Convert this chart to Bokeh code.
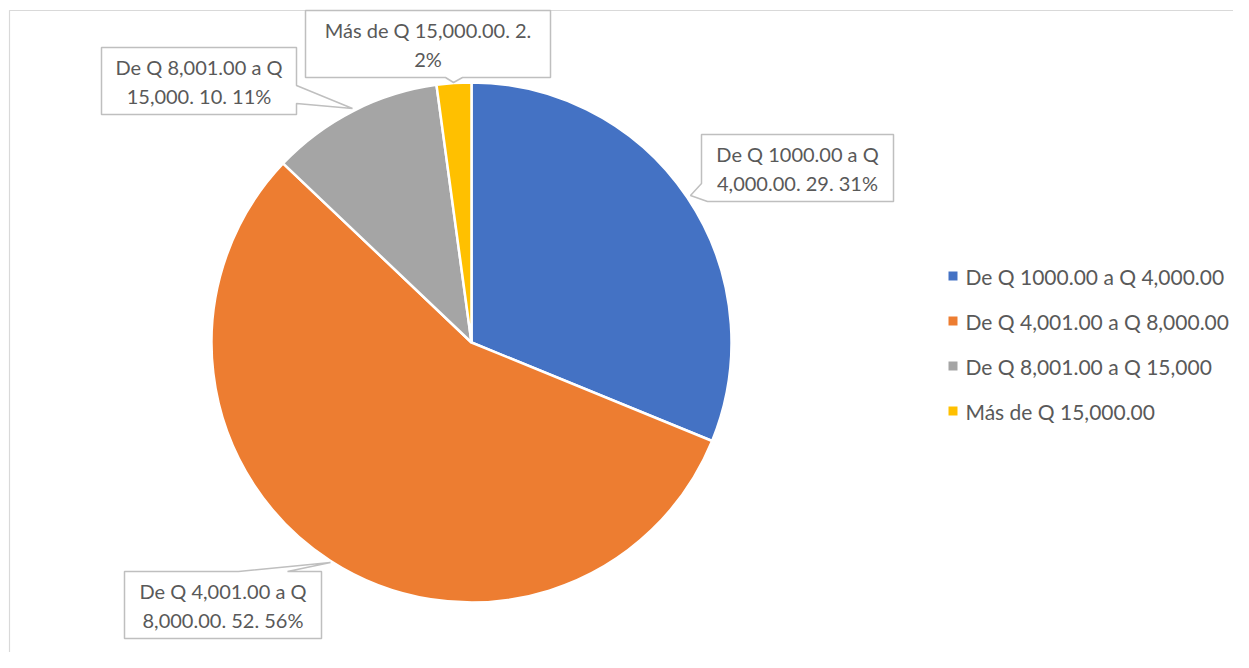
import numpy as np
from bokeh.plotting import figure
from bokeh.models import Range1d
from bokeh.core.properties import value
from bokeh.embed import file_html
from bokeh.resources import INLINE

# ---- data ----
categories = ["De Q 1000.00 a Q 4,000.00", "De Q 4,001.00 a Q 8,000.00",
              "De Q 8,001.00 a Q 15,000", "Más de Q 15,000.00"]
counts = [29, 52, 10, 2]
colors = ["#4472C4", "#ED7D31", "#A5A5A5", "#FFC000"]

FONT = "Lato"
FS = "20px"
LFS = "21px"
TXT = "#595959"

W, H = 1233, 652
p = figure(width=W, height=H, x_range=Range1d(0, W), y_range=Range1d(-H, 0),
           output_backend="svg", toolbar_location=None, min_border=0)
p.axis.visible = False
p.grid.visible = False
p.outline_line_color = None
p.background_fill_color = "white"

# chart area border
p.quad(left=[9], right=[1300], top=[-10], bottom=[-720], fill_color=None,
       line_color="#D9D9D9", line_width=1.2)

# ---- pie ----
cx, cy, r = 471, -342, 260
vals = np.array(counts, dtype=float)
frac = vals / vals.sum()
cum = np.concatenate([[0], np.cumsum(frac)])
starts = np.pi / 2 - 2 * np.pi * cum[:-1]
ends = np.pi / 2 - 2 * np.pi * cum[1:]
p.wedge(x=[cx] * 4, y=[cy] * 4, radius=r, start_angle=list(starts), end_angle=list(ends),
        direction="clock", fill_color=colors, line_color="white", line_width=2.5)

# ---- data label callouts ----
pcts = [int(round(f * 100)) for f in frac]
labels = [f"{c}. {v}. {pc}%" for c, v, pc in zip(categories, counts, pcts)]
lines = [(" ".join(l.split(" ")[:5]), " ".join(l.split(" ")[5:])) for l in labels]

callouts = [
    [(701, 134), (893, 134), (893, 201), (707, 201), (690, 195), (701, 183)],
    [(124, 571), (238, 571), (330, 562), (287, 571), (321, 571), (321, 638), (124, 638)],
    [(101, 47), (296, 47), (296, 85), (352, 108), (296, 103), (296, 114), (101, 114)],
    [(305, 10), (550, 10), (550, 77), (462, 77), (453, 82), (445, 77), (305, 77)],
]
centers = [(797, 167.5), (222.5, 604.5), (198.5, 80.5), (427.5, 43.5)]

p.patches(xs=[[pt[0] for pt in c] for c in callouts],
          ys=[[-pt[1] for pt in c] for c in callouts],
          fill_color="white", line_color="#BFBFBF", line_width=1.5)

tx, ty, tt = [], [], []
for (x, y), (l1, l2) in zip(centers, lines):
    tx += [x, x]
    ty += [-(y - 14.5), -(y + 14.5)]
    tt += [l1, l2]
p.text(x=tx, y=ty, text=tt, text_align="center", text_baseline="middle",
       text_font=value(FONT), text_font_size=FS, text_color=TXT)

# ---- legend ----
ly = [275.5, 320.5, 365.5, 410.5]
p.rect(x=[952.5] * 4, y=[-v for v in ly], width=9, height=9, fill_color=colors, line_color=None)
p.text(x=[965] * 4, y=[-v for v in ly], text=categories, text_align="left", text_baseline="middle",
       text_font=value(FONT), text_font_size=LFS, text_color=TXT)

open("out.html", "w").write(file_html(p, INLINE))
